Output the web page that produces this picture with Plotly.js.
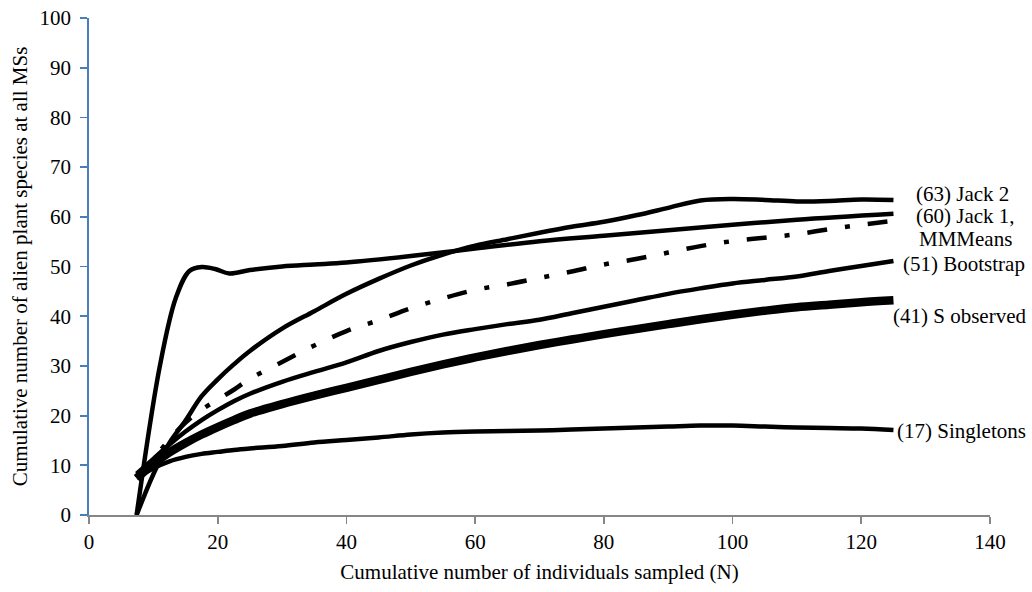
<!DOCTYPE html>
<html>
<head>
<meta charset="utf-8">
<script src="https://cdn.plot.ly/plotly-3.0.1.min.js"></script>
<style>
  html, body { margin: 0; padding: 0; background: #ffffff; }
  #chart { width: 1032px; height: 592px; }
</style>
</head>
<body>
<div id="chart"></div>
<script>
// Cumulative sample size (N) at which each estimator was evaluated
const sampleN = [7.4, 10, 12.5, 15, 17.5, 20, 22.5, 25, 30, 35, 40, 45, 50, 55, 60,
                 65, 70, 75, 80, 85, 90, 95, 100, 105, 110, 115, 120, 125];

// Jackknife 1 rises abruptly, so it keeps its own set of sample sizes
const jack1N      = [7.4, 11, 13.5, 15.6, 17.5, 19.6, 21.8, 25, 30, 35, 40,
                     50, 60, 70, 80, 90, 100, 110, 125];
const jack1Values = [0, 29.9, 43.7, 49.1, 49.9, 49.5, 48.6, 49.3, 50, 50.4,
                     50.8, 52.1, 53.6, 55.1, 56.2, 57.3, 58.4, 59.4, 60.6];

const jack2Values = [0, 8.2, 14.5, 19, 23.9, 27.3, 30.3, 33, 37.5, 41, 44.5, 47.5, 50.2, 52.4,
                     54.2, 55.5, 56.8, 58, 59, 60.3, 61.8, 63.3, 63.6, 63.4, 63.1, 63.2, 63.5, 63.4];

const mmMeansValues = [7.5, 11.3, 15.2, 18.6, 21.2, 23.2, 25.2, 27.4, 30.8, 34.1, 37, 39.2, 41.6,
                       43.6, 45.3, 46.4, 47.7, 49, 50.4, 51.5, 52.8, 54.1, 55.1, 55.8, 56.5, 57.5,
                       58.4, 59.2];

const bootstrapValues = [8.3, 11.3, 14.2, 16.8, 19.1, 21.1, 22.9, 24.4, 26.8, 28.8, 30.7, 33, 34.8,
                         36.3, 37.4, 38.4, 39.3, 40.6, 41.9, 43.2, 44.5, 45.6, 46.6, 47.3, 48,
                         49.1, 50.1, 51.1];

const sObservedValues = [7.4, 10.3, 12.6, 14.5, 16.2, 17.7, 19.1, 20.4, 22.3, 24, 25.6, 27.2, 28.8,
                         30.3, 31.7, 33, 34.2, 35.3, 36.4, 37.4, 38.4, 39.4, 40.3, 41.1, 41.8,
                         42.3, 42.8, 43.2];

const singletonValues = [7.4, 9.4, 10.8, 11.7, 12.3, 12.7, 13.1, 13.4, 13.9, 14.6, 15.1, 15.6, 16.2,
                         16.6, 16.8, 16.9, 17, 17.2, 17.4, 17.6, 17.8, 18, 18, 17.8, 17.6, 17.5,
                         17.4, 17.1];

// End-of-curve labels
const curveLabels = ['(63) Jack 2', '(60) Jack 1,', 'MMMeans', '(51) Bootstrap',
                     '(41) S observed', '(17) Singletons'];
const labelX = [135.8, 136.2, 136.2, 136.0, 135.2, 135.6];
const labelY = [64.5, 60.1, 55.6, 50.6, 40.1, 16.9];

const serif = "'Liberation Serif', 'Times New Roman', Times, serif";

function curve(name, x, y, width, dash) {
  return {
    type: 'scatter', mode: 'lines', name: name, x: x, y: y,
    line: { color: '#000000', width: width, shape: 'spline', smoothing: 1, dash: dash || 'solid' },
    hoverinfo: 'skip'
  };
}

const traces = [
  curve('Singletons', sampleN, singletonValues, 4.5),
  curve('S observed', sampleN, sObservedValues, 8.5),
  curve('Bootstrap', sampleN, bootstrapValues, 4.5),
  curve('MMMeans', sampleN, mmMeansValues, 4.5, '20px,18px,5px,18px'),
  curve('Jack 1', jack1N, jack1Values, 4.5),
  curve('Jack 2', sampleN, jack2Values, 4.5)
];

const annotations = curveLabels.map((t, i) => ({
  text: t, x: labelX[i], y: labelY[i], xref: 'x', yref: 'y',
  xanchor: 'center', yanchor: 'middle', showarrow: false,
  font: { family: serif, size: 21, color: '#000000' }
}));

const layout = {
  width: 1032, height: 592,
  margin: { l: 89, r: 42, t: 18, b: 77 },
  paper_bgcolor: '#ffffff', plot_bgcolor: '#ffffff',
  showlegend: false,
  font: { family: serif, size: 21, color: '#000000' },
  xaxis: {
    range: [0, 140], dtick: 20, tick0: 0,
    showgrid: false, zeroline: false,
    showline: true, linecolor: '#868686', linewidth: 1.8,
    ticks: 'outside', ticklen: 7, tickcolor: '#868686', tickwidth: 1.8,
    tickfont: { family: serif, size: 21, color: '#000000' },
    title: { text: 'Cumulative number of individuals sampled (N)',
             font: { family: serif, size: 21, color: '#000000' }, standoff: 11 }
  },
  yaxis: {
    range: [0, 100], dtick: 10, tick0: 0,
    showgrid: false, zeroline: false,
    showline: true, linecolor: '#4a7ebb', linewidth: 1.8,
    ticks: 'outside', ticklen: 7, tickcolor: '#4a7ebb', tickwidth: 1.8,
    ticklabelstandoff: 5,
    tickfont: { family: serif, size: 21, color: '#000000' },
    title: { text: 'Cumulative number of alien plant species at all MSs',
             font: { family: serif, size: 21, color: '#000000' }, standoff: 6 }
  },
  annotations: annotations
};

Plotly.newPlot('chart', traces, layout, { displayModeBar: false, staticPlot: true });
</script>
</body>
</html>
